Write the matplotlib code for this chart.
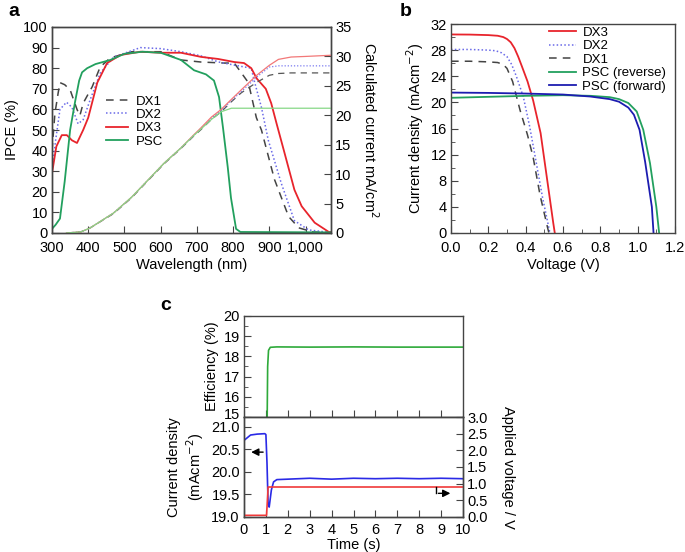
import matplotlib
matplotlib.use("Agg")
import matplotlib.pyplot as plt
import matplotlib.transforms as mtransforms
from matplotlib.ticker import MultipleLocator, FixedLocator, FormatStrFormatter

plt.rcParams['font.family'] = ['Liberation Sans', 'DejaVu Sans']
plt.rcParams['font.size'] = 10.5
plt.rcParams['axes.linewidth'] = 1.0
plt.rcParams['axes.edgecolor'] = '#444444'
plt.rcParams['xtick.direction'] = 'in'
plt.rcParams['ytick.direction'] = 'in'
plt.rcParams['xtick.color'] = '#444444'
plt.rcParams['ytick.color'] = '#444444'
plt.rcParams['xtick.labelcolor'] = 'black'
plt.rcParams['ytick.labelcolor'] = 'black'

# ---- panel a: IPCE ----
wl_psc = [300, 310, 322, 335, 350, 364, 375, 383, 397, 420, 461, 500, 550, 600, 640, 656, 692, 725, 747, 761, 772, 785, 794, 808, 820, 1070]
ipce_psc = [2, 4, 7, 25, 50, 64, 74, 78, 80, 82, 84, 87, 88, 87.5, 85, 84, 79, 77, 74, 66, 51, 32, 17, 2, 0.5, 0.3]

wl_dx3 = [300, 312, 327, 341, 355, 369, 386, 400, 425, 452, 489, 544, 600, 656, 711, 758, 803, 830, 850, 865, 890, 905, 920, 940, 969, 989, 1025, 1064, 1070]
ipce_dx3 = [29, 42, 47.5, 47.5, 45, 43.7, 50, 56, 73, 82.5, 86.4, 88, 87.5, 87.5, 85.5, 84.5, 83, 82.5, 80, 75, 70, 63, 53, 40, 21, 13, 5, 0.5, 0.4]

wl_dx2 = [300, 310, 322, 340, 355, 372, 386, 405, 433, 470, 544, 600, 656, 711, 760, 803, 850, 858, 878, 897, 933, 969, 1008, 1070]
ipce_dx2 = [30, 45, 60, 63.5, 61, 53, 55, 64.5, 77.6, 85.4, 90, 89.5, 88, 86, 83, 81.5, 80, 74, 61, 45, 24, 6, 1.5, 0.2]

wl_dx1 = [300, 308, 317, 322, 335, 350, 369, 377, 386, 411, 433, 461, 520, 600, 656, 711, 775, 803, 842, 864, 878, 914, 953, 981, 1020, 1070]
ipce_dx1 = [40, 58, 68, 73, 72, 69.5, 60, 57, 63, 71, 80.6, 85, 88, 88, 84, 83, 82.5, 82.5, 73, 56, 50, 26, 8, 2.5, 0.5, 0.2]

# integrated current (right axis)
wl_int = [340, 380, 405, 470, 520, 565, 610, 655, 690, 710, 740, 767, 795, 822, 865, 900, 925, 960, 1000, 1070]
jint_dx3 = [0, 0.2, 0.85, 3.4, 6.1, 9.0, 11.9, 14.4, 16.6, 17.8, 19.7, 21.0, 22.7, 24.3, 26.8, 28.5, 29.5, 29.9, 30.0, 30.2]
jint_dx2 = [0, 0.2, 0.85, 3.4, 6.1, 9.0, 11.9, 14.4, 16.5, 17.7, 19.5, 20.8, 22.5, 24.0, 26.5, 28.2, 28.4, 28.4, 28.4, 28.4]
jint_dx1 = [0, 0.2, 0.85, 3.3, 6.0, 8.9, 11.8, 14.3, 16.4, 17.5, 19.3, 20.6, 22.3, 23.8, 25.6, 26.8, 27.1, 27.2, 27.2, 27.2]
jint_psc = [0, 0.2, 0.85, 3.4, 6.1, 9.0, 11.9, 14.4, 16.5, 17.6, 19.3, 20.6, 21.2, 21.2, 21.2, 21.2, 21.2, 21.2, 21.2, 21.2]

wl_ticks = [300, 400, 500, 600, 700, 800, 900, 1000]
wl_labels = ['300', '400', '500', '600', '700', '800', '900', '1,000']

# ---- panel b: J-V ----
v_dx3 = [0, 0.1, 0.2, 0.25, 0.28, 0.3, 0.32, 0.34, 0.36, 0.38, 0.41, 0.44, 0.48, 0.513, 0.548, 0.556]
j_dx3 = [30.4, 30.38, 30.3, 30.2, 30.0, 29.7, 29.2, 28.3, 27.0, 25.5, 23.2, 20.3, 15.3, 8.6, 1.5, 0]
v_dx2 = [0, 0.1, 0.2, 0.24, 0.27, 0.3, 0.325, 0.35, 0.387, 0.42, 0.44, 0.49, 0.53]
j_dx2 = [28.1, 28.1, 28.0, 27.9, 27.6, 27.0, 25.8, 24.0, 20.9, 16.5, 13.4, 5.5, 0]
v_dx1 = [0, 0.1, 0.2, 0.25, 0.28, 0.3, 0.33, 0.35, 0.37, 0.41, 0.44, 0.477, 0.52, 0.525]
j_dx1 = [26.3, 26.3, 26.2, 26.1, 25.8, 25.2, 23.2, 21.0, 18.8, 15.0, 11.6, 5.8, 0.5, 0]
v_rev = [0, 0.2, 0.4, 0.6, 0.75, 0.85, 0.9, 0.95, 0.995, 1.03, 1.066, 1.10, 1.115]
j_rev = [20.7, 20.85, 21.0, 21.1, 21.0, 20.8, 20.5, 19.9, 18.6, 15.8, 10.7, 4.0, 0]
v_fwd = [0, 0.2, 0.4, 0.6, 0.745, 0.85, 0.9, 0.95, 0.98, 1.01, 1.04, 1.076, 1.085]
j_fwd = [21.5, 21.45, 21.35, 21.2, 20.9, 20.5, 20.1, 19.2, 18.1, 15.8, 10.9, 4.0, 0]

# ---- panel c: stabilised output ----
t_eff = [0, 1.0, 1.05, 1.08, 1.12, 1.2, 1.5, 3, 5, 7, 10]
eff = [0, 0, 14, 17.5, 18.3, 18.45, 18.47, 18.46, 18.47, 18.46, 18.46]
t_j = [0, 0.15, 0.3, 0.6, 0.95, 1.0, 1.05, 1.1, 1.15, 1.25, 1.35, 1.5, 2, 3, 4, 5, 6, 7, 8, 9, 10]
j_t = [20.70, 20.76, 20.82, 20.84, 20.85, 20.83, 20.2, 19.3, 19.22, 19.6, 19.78, 19.83, 19.84, 19.86, 19.84, 19.86, 19.85, 19.86, 19.85, 19.86, 19.85]
t_v = [0, 1.03, 1.1, 10]
v_t = [0.05, 0.05, 0.9, 0.9]

RED = '#e8242c'
GREEN = '#22a05e'
DBLUE = '#1c1cb0'
LBLUE = '#6a6ae8'
GRAY = '#444444'

W, H = 685, 552
fig = plt.figure(figsize=(W / 100, H / 100), dpi=100)


def box(l, r, t, b):
    return [l / W, 1 - b / H, (r - l) / W, (b - t) / H]


# panel a
axa = fig.add_axes(box(52, 331, 27, 233))
axa.plot(wl_dx1, ipce_dx1, color=GRAY, lw=1.1, dashes=(5, 4), label='DX1')
axa.plot(wl_dx2, ipce_dx2, color=LBLUE, lw=1.1, dashes=(1, 1.5), label='DX2')
axa.plot(wl_dx3, ipce_dx3, color=RED, lw=1.3, label='DX3')
axa.plot(wl_psc, ipce_psc, color=GREEN, lw=1.3, label='PSC')
axa.set_xlim(300, 1070)
axa.set_ylim(0, 100)
axa.set_yticks(range(0, 101, 10))
axa.xaxis.set_major_locator(FixedLocator(wl_ticks))
axa.set_xticklabels(wl_labels)
axa.set_xlabel('Wavelength (nm)', labelpad=2)
axa.set_ylabel('IPCE (%)', labelpad=3)
axa.tick_params(axis='y', length=5, pad=3)
axa.tick_params(axis='x', length=5, pad=6)
axa.legend(loc='upper left', bbox_to_anchor=(0.17, 0.70), frameon=False, fontsize=9.5,
           handlelength=1.7, labelspacing=0.09, handletextpad=0.6, borderpad=0)

axa2 = axa.twinx()
axa2.plot(wl_int, jint_dx1, color='#555555', lw=0.9, dashes=(5, 4))
axa2.plot(wl_int, jint_dx2, color='#7a7af0', lw=0.9, dashes=(1, 1.5))
axa2.plot(wl_int, jint_dx3, color='#f27878', lw=0.9)
axa2.plot(wl_int, jint_psc, color='#86d886', lw=0.9)
axa2.set_ylim(0, 35)
axa2.set_yticks(range(0, 36, 5))
axa2.tick_params(length=5, pad=3)
axa2.set_ylabel('Calculated current mA/cm$^2$', rotation=270, labelpad=20)

# panel b
axb = fig.add_axes(box(451, 675, 24, 233))
axb.plot(v_dx3, j_dx3, color=RED, lw=1.3, label='DX3')
axb.plot(v_dx2, j_dx2, color=LBLUE, lw=1.1, dashes=(1, 1.5), label='DX2')
axb.plot(v_dx1, j_dx1, color=GRAY, lw=1.1, dashes=(5, 4), label='DX1')
axb.plot(v_rev, j_rev, color=GREEN, lw=1.3, label='PSC (reverse)')
axb.plot(v_fwd, j_fwd, color=DBLUE, lw=1.3, label='PSC (forward)')
axb.set_xlim(0, 1.2)
axb.set_ylim(0, 32)
axb.xaxis.set_major_locator(MultipleLocator(0.2))
axb.xaxis.set_minor_locator(MultipleLocator(0.1))
axb.yaxis.set_major_locator(MultipleLocator(4))
axb.yaxis.set_minor_locator(MultipleLocator(2))
axb.xaxis.set_major_formatter(FormatStrFormatter('%.1f'))
axb.tick_params(axis='y', which='major', length=5, pad=3)
axb.tick_params(axis='x', which='major', length=5, pad=6)
axb.tick_params(which='minor', length=3)
axb.set_xlabel('Voltage (V)', labelpad=2)
axb.set_ylabel('Current density (mAcm$^{-2}$)', labelpad=3)
axb.legend(loc='upper left', bbox_to_anchor=(0.41, 1.02), frameon=False, fontsize=9.5,
           handlelength=2.0, labelspacing=0.1, handletextpad=0.5, borderpad=0)

# panel c top
axc1 = fig.add_axes(box(244, 463, 316, 417))
axc1.plot(t_eff, eff, color='#2eaa3a', lw=1.2)
axc1.set_xlim(0, 10)
axc1.set_ylim(15, 20)
axc1.xaxis.set_major_locator(MultipleLocator(1))
axc1.set_yticks([15, 16, 17, 18, 19, 20])
axc1.yaxis.set_minor_locator(MultipleLocator(0.5))
axc1.tick_params(labelbottom=False, length=5, pad=3)
axc1.tick_params(which='minor', length=3)
axc1.set_ylabel('Efficiency (%)', labelpad=3)
lab15 = axc1.get_yticklabels()[0]
lab15.set_transform(lab15.get_transform() + mtransforms.ScaledTranslation(0, 3 / 100, fig.dpi_scale_trans))

# panel c bottom
axc2 = fig.add_axes(box(244, 463, 417, 517))
axc2.plot(t_j, j_t, color='#2a2ae6', lw=1.2)
axc2.set_xlim(0, 10)
axc2.set_ylim(19.0, 21.22)
axc2.xaxis.set_major_locator(MultipleLocator(1))
axc2.set_yticks([19.0, 19.5, 20.0, 20.5, 21.0])
axc2.yaxis.set_major_formatter(FormatStrFormatter('%.1f'))
axc2.tick_params(axis='y', length=5, pad=3)
axc2.tick_params(axis='x', length=5, pad=4)
axc2.set_xlabel('Time (s)', labelpad=1)
axc2.set_ylabel('Current density\n(mAcm$^{-2}$)', labelpad=4)
axc2.annotate('', xy=(0.2, 20.44), xytext=(1.0, 20.44),
              arrowprops=dict(arrowstyle='-|>', color='black', lw=1.0, mutation_scale=11))

axc3 = axc2.twinx()
axc3.plot(t_v, v_t, color='#f03a3a', lw=1.2)
axc3.set_ylim(0, 3.0)
axc3.set_yticks([0, 0.5, 1.0, 1.5, 2.0, 2.5, 3.0])
axc3.yaxis.set_major_formatter(FormatStrFormatter('%.1f'))
axc3.tick_params(length=5, pad=3)
axc3.set_ylabel('Applied voltage / V', rotation=270, labelpad=20)
axc3.plot([8.75, 8.75], [0.9, 0.71], color='black', lw=1.0)
axc3.annotate('', xy=(9.55, 0.71), xytext=(8.75, 0.71),
              arrowprops=dict(arrowstyle='-|>', color='black', lw=1.0, mutation_scale=11))

fig.text(8 / W, 1 - 12 / H, 'a', fontsize=14, fontweight='bold', ha='left', va='center')
fig.text(400 / W, 1 - 12 / H, 'b', fontsize=14, fontweight='bold', ha='left', va='center')
fig.text(160 / W, 1 - 305 / H, 'c', fontsize=14, fontweight='bold', ha='left', va='center')

fig.savefig('out.png', dpi=100)
